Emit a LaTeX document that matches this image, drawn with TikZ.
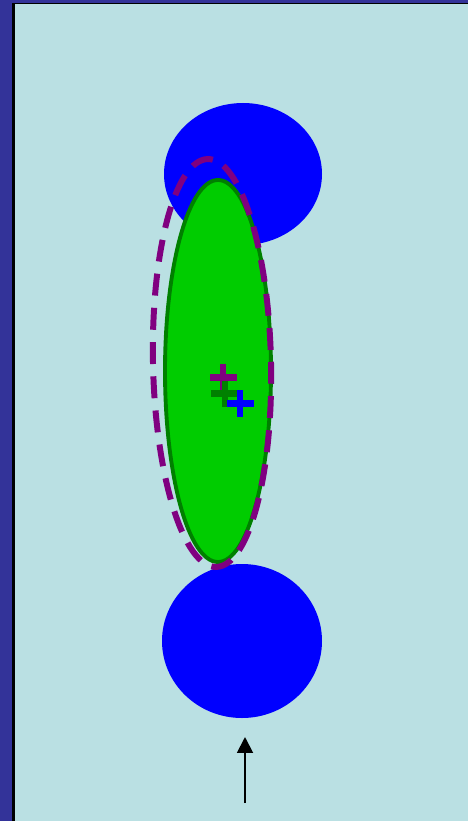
\documentclass[tikz,border=0pt]{standalone}
\usetikzlibrary{arrows.meta}
\definecolor{frameblue}{RGB}{51,51,153}
\definecolor{bg}{RGB}{186,224,227}
\definecolor{leaf}{RGB}{0,204,0}
\definecolor{darkgreen}{RGB}{0,128,0}
\definecolor{purple}{RGB}{128,0,128}
\definecolor{blue}{RGB}{0,0,255}

\begin{document}
\begin{tikzpicture}[x=0.02cm, y=-0.02cm,
	blob/.style={fill=blue},
	body/.style={fill=leaf, draw=darkgreen, line width=2.2pt},
	hull/.style={draw=purple, line width=3.4pt, dash pattern=on 12.5pt off 7pt},
	centremark/.style={line width=3.6pt}]
	\useasboundingbox (0,0) rectangle (468,821);
	% frame and background
	\fill[frameblue] (0,0) rectangle (468,821);
	\fill[black] (12,3) rectangle (468,821);
	\fill[bg] (15,4.5) rectangle (468,821);
	% two blobs
	\fill[blob] (243,174) ellipse [x radius=79, y radius=71];
	\fill[blob] (242,641) ellipse [x radius=80, y radius=77];
	% body and its hull
	\draw[body] (218,371) ellipse [x radius=53, y radius=191];
	\draw[hull, rotate around={1.2:(212,363)}] (212,363) ellipse [x radius=59, y radius=204];
	% centres
	\draw[centremark, purple] (223,364) -- (223,390) (210,377.5) -- (237,377.5);
	\draw[centremark, darkgreen] (225,381) -- (225,407) (211,393.5) -- (238,393.5);
	\draw[centremark, blue] (240,390) -- (240,417) (227,403.5) -- (254,403.5);
	% direction
	\coordinate (tail) at (245,803);
	\coordinate (head) at (245,737);
	\draw[-{Triangle[length=9pt, width=9pt]}, line width=1.1pt] (tail) -- (head);
\end{tikzpicture}
\end{document}
